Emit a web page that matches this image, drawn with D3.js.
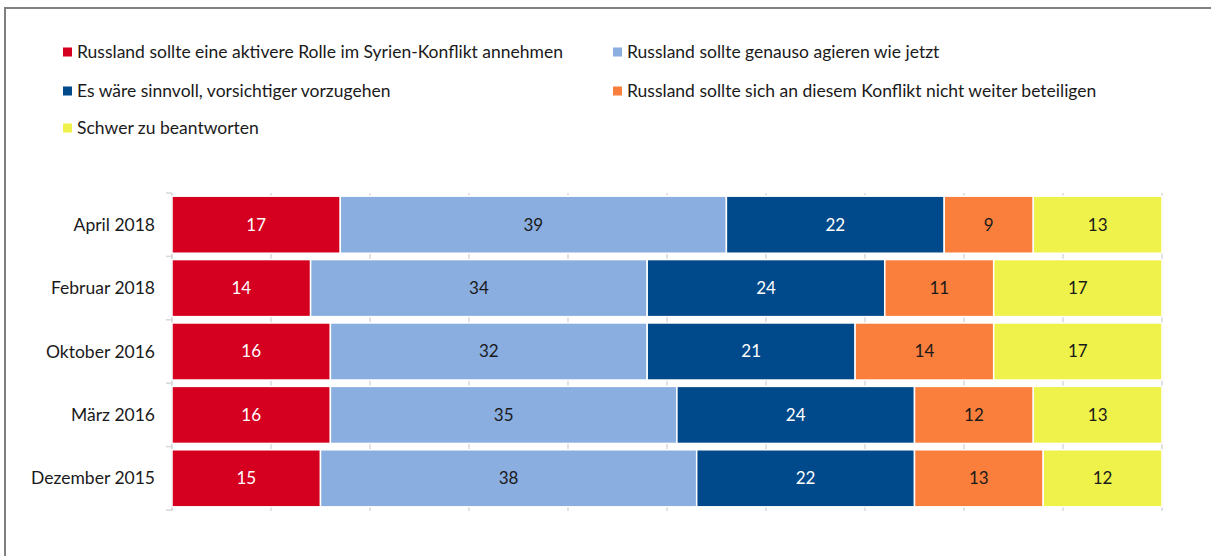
<!DOCTYPE html>
<html>
<head>
<meta charset="utf-8">
<script src="https://cdn.jsdelivr.net/npm/d3@7"></script>
<style>
  html, body { margin: 0; padding: 0; background: #fff; }
  svg { display: block; font-family: Lato, "Liberation Sans", sans-serif; }
</style>
</head>
<body>
<svg id="chart" width="1211" height="556"></svg>
<script>
// Survey waves (top to bottom)
const categories = ["April 2018", "Februar 2018", "Oktober 2016", "März 2016", "Dezember 2015"];

// Answer options, in stacking order
const seriesNames = [
  "Russland sollte eine aktivere Rolle im Syrien-Konflikt annehmen",
  "Russland sollte genauso agieren wie jetzt",
  "Es wäre sinnvoll, vorsichtiger vorzugehen",
  "Russland sollte sich an diesem Konflikt nicht weiter beteiligen",
  "Schwer zu beantworten"
];

// Percent per wave, one array per answer option
const aktivere     = [17, 14, 16, 16, 15];
const genauso      = [39, 34, 32, 35, 38];
const vorsichtiger = [22, 24, 21, 24, 22];
const nichtWeiter  = [9, 11, 14, 12, 13];
const schwer       = [13, 17, 17, 13, 12];

const xTicks = [0, 10, 20, 30, 40, 50, 60, 70, 80, 90, 100];

const colors = ["#d50020", "#8aaee0", "#00498a", "#fa7f3c", "#eef24a"];
const labelColors = ["#ffffff", "#1a1a1a", "#ffffff", "#1a1a1a", "#1a1a1a"];

const seriesValues = [aktivere, genauso, vorsichtiger, nichtWeiter, schwer];
const keys = ["s0", "s1", "s2", "s3", "s4"];
const rows = categories.map((c, i) => {
  const r = { cat: c };
  keys.forEach((k, j) => { r[k] = seriesValues[j][i]; });
  return r;
});

const svg = d3.select("#chart");

// Outer frame (left and top edges)
svg.append("path")
  .attr("d", "M5,556 V8 H1211")
  .attr("fill", "none")
  .attr("stroke", "#808080")
  .attr("stroke-width", 2);

const x = d3.scaleLinear().domain([0, 100]).range([172, 1162]);
const y = d3.scaleBand().domain(categories).range([193, 510]).paddingInner(0.1).paddingOuter(0.05);

// Vertical gridlines, behind the bars
svg.append("g")
  .selectAll("line")
  .data(xTicks)
  .join("line")
  .attr("x1", d => x(d)).attr("x2", d => x(d))
  .attr("y1", 193).attr("y2", 511)
  .attr("stroke", "#d9d9d9")
  .attr("stroke-width", 1.5);

// Category axis with ticks between bands
const bandEdges = categories.map(c => y(c) - y.step() * y.paddingInner() / 2);
bandEdges.push(510);
bandEdges[0] = 193;
const yAxisG = svg.append("g");
yAxisG.append("line")
  .attr("x1", 172).attr("x2", 172).attr("y1", 193).attr("y2", 510)
  .attr("stroke", "#d9d9d9").attr("stroke-width", 1.5);
yAxisG.selectAll("line.tick")
  .data(bandEdges)
  .join("line")
  .attr("class", "tick")
  .attr("x1", 166).attr("x2", 172)
  .attr("y1", d => d).attr("y2", d => d)
  .attr("stroke", "#d9d9d9").attr("stroke-width", 1.5);

yAxisG.selectAll("text")
  .data(categories)
  .join("text")
  .attr("x", 155)
  .attr("y", d => y(d) + y.bandwidth() / 2)
  .attr("dy", "0.35em")
  .attr("text-anchor", "end")
  .attr("font-size", 17.5)
  .attr("fill", "#1a1a1a")
  .text(d => d);

// Stacked bars
const stacked = d3.stack().keys(keys)(rows);
const layers = svg.append("g")
  .selectAll("g")
  .data(stacked)
  .join("g");

layers.selectAll("rect")
  .data((layer, li) => layer.map(d => ({ d, li })))
  .join("rect")
  .attr("x", o => x(o.d[0]))
  .attr("y", o => y(o.d.data.cat))
  .attr("width", o => x(o.d[1]) - x(o.d[0]))
  .attr("height", y.bandwidth())
  .attr("fill", o => colors[o.li])
  .attr("stroke", "#ffffff")
  .attr("stroke-width", 1.5);

layers.selectAll("text")
  .data((layer, li) => layer.map(d => ({ d, li })))
  .join("text")
  .attr("x", o => (x(o.d[0]) + x(o.d[1])) / 2)
  .attr("y", o => y(o.d.data.cat) + y.bandwidth() / 2)
  .attr("dy", "0.35em")
  .attr("text-anchor", "middle")
  .attr("font-size", 17)
  .attr("fill", o => labelColors[o.li])
  .text(o => o.d[1] - o.d[0]);

// Legend: two columns, three rows
const legendPos = [
  { x: 63, y: 52 }, { x: 613, y: 52 },
  { x: 63, y: 91 }, { x: 613, y: 91 },
  { x: 63, y: 128 }
];
const legend = svg.append("g")
  .selectAll("g")
  .data(seriesNames)
  .join("g")
  .attr("transform", (d, i) => `translate(${legendPos[i].x},${legendPos[i].y})`);

legend.append("rect")
  .attr("x", 0).attr("y", -4.5)
  .attr("width", 9).attr("height", 9)
  .attr("fill", (d, i) => colors[i]);

legend.append("text")
  .attr("x", 14)
  .attr("dy", "0.35em")
  .attr("font-size", 17.5)
  .attr("fill", "#1a1a1a")
  .text(d => d);
</script>
</body>
</html>
